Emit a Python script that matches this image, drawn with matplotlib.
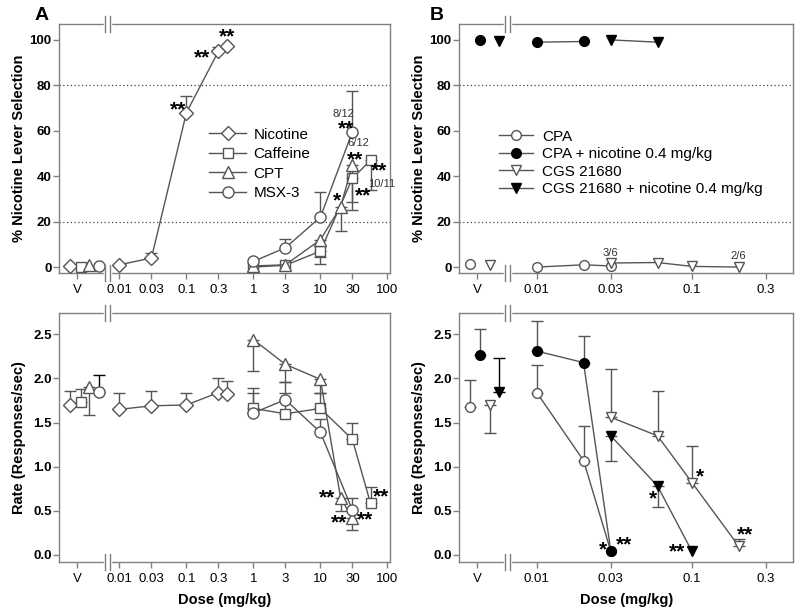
import numpy as np
import matplotlib
matplotlib.use('Agg')
import matplotlib.pyplot as plt
from matplotlib.lines import Line2D
from matplotlib.transforms import blended_transform_factory

plt.rcParams['font.family'] = ['Liberation Sans', 'DejaVu Sans']

GRAY = '#555555'
FRAME = '#808080'

# ---------------- panel A: nicotine, caffeine, CPT, MSX-3 ----------------
nic_dose = [0.01, 0.03, 0.1, 0.3, 0.4]
nic_sel = [1, 4, 68, 95, 97.5]
nic_sel_up = [0, 2, 7.5, 2, 0]
nic_sel_v = 0.5
nic_rate = [1.65, 1.69, 1.70, 1.84, 1.82]
nic_rate_up = [0.18, 0.17, 0.13, 0.16, 0.15]
nic_rate_v = 1.70
nic_rate_v_up = 0.16

caf_dose = [1, 3, 10, 30, 56]
caf_sel = [0, 0.8, 7, 39, 47]
caf_sel_dn = [0, 0, 5.5, 10.5, 13]
caf_sel_v = 0
caf_rate = [1.66, 1.60, 1.66, 1.31, 0.585]
caf_rate_up = [0.23, 0.23, 0.18, 0.19, 0.18]
caf_rate_v = 1.73
caf_rate_v_up = 0.15

cpt_dose = [1, 3, 10, 20, 30]
cpt_sel = [0.5, 1, 12, 26.5, 45]
cpt_sel_dn = [0, 0, 7.5, 10.5, 20]
cpt_sel_v = 1
cpt_rate = [2.44, 2.16, 1.99, 0.65, 0.415]
cpt_rate_dn = [0.36, 0.20, 0.16, 0.15, 0.13]
cpt_rate_v = 1.90
cpt_rate_v_dn = 0.31

msx_dose = [1, 3, 10, 30]
msx_sel = [2.5, 8.5, 22, 59.5]
msx_sel_up = [0, 4, 11, 18]
msx_sel_v = 0.5
msx_rate = [1.61, 1.76, 1.39, 0.51]
msx_rate_up = [0.23, 0.20, 0.15, 0.14]
msx_rate_v = 1.85
msx_rate_v_up = 0.19

a_ticks = [0.01, 0.03, 0.1, 0.3, 1, 3, 10, 30, 100]
a_labels = ['0.01', '0.03', '0.1', '0.3', '1', '3', '10', '30', '100']
a_names = ['Nicotine', 'Caffeine', 'CPT', 'MSX-3']

# ---------------- panel B: CPA, CGS 21680 ----------------
cpa_dose = [0.01, 0.02, 0.03]
cpa_sel = [0, 1, 0.5]
cpa_sel_v = 1.5
cpa_rate = [1.84, 1.07, 0.04]
cpa_rate_up = [0.31, 0.39, 0]
cpa_rate_v = 1.68
cpa_rate_v_up = 0.30

cpan_dose = [0.01, 0.02, 0.03]
cpan_sel = [99, 99.3]
cpan_sel_v = 100
cpan_rate = [2.31, 2.18, 0.04]
cpan_rate_up = [0.34, 0.30, 0]
cpan_rate_v = 2.27
cpan_rate_v_up = 0.29

cgs_dose = [0.03, 0.06, 0.1, 0.2]
cgs_sel = [1.8, 2, 0.3, 0]
cgs_sel_v = 1
cgs_rate = [1.56, 1.35, 0.82, 0.10]
cgs_rate_up = [0.55, 0.51, 0.41, 0.08]
cgs_rate_v = 1.70
cgs_rate_v_dn = 0.32

cgsn_dose = [0.03, 0.06, 0.1]
cgsn_sel = [100, 99]
cgsn_sel_v = 99.5
cgsn_rate = [1.35, 0.78, 0.04]
cgsn_rate_dn = [0.29, 0.24, 0]
cgsn_rate_v = 1.85
cgsn_rate_v_up = 0.38

b_ticks = [0.01, 0.03, 0.1, 0.3]
b_labels = ['0.01', '0.03', '0.1', '0.3']
b_names = ['CPA', 'CPA + nicotine 0.4 mg/kg', 'CGS 21680',
           'CGS 21680 + nicotine 0.4 mg/kg']

# x positions of the vehicle points (log-dose units, left of the break)
A_V = {'nic': -2.74, 'caf': -2.58, 'cpt': -2.45, 'msx': -2.31}
B_V = {'cpa': -2.43, 'cpan': -2.366, 'cgs': -2.30, 'cgsn': -2.243}
A_XLIM = (-2.9, 2.045)
B_XLIM = (-2.50, -0.348)

# marker sizes
MS_A = {'D': 7.5, 's': 7.5, '^': 8, 'o': 8}
MS_B = 7


def errs(ax, x, y, lo=None, hi=None, color=GRAY):
    n = len(x)
    lo = lo if lo is not None else [0] * n
    hi = hi if hi is not None else [0] * n
    for xi, yi, l, h in zip(x, y, lo, hi):
        if l == 0 and h == 0:
            continue
        ax.errorbar([xi], [yi], yerr=[[l], [h]], fmt='none', ecolor=color,
                    elinewidth=1, capsize=4.2, capthick=1, zorder=2)


def series(ax, dose, y, marker, ms, filled=False, xv=None, yv=None):
    x = np.log10(dose[:len(y)])
    face = 'black' if filled else 'white'
    edge = 'black' if filled else GRAY
    ax.plot(x, y, color=GRAY, lw=1, marker=marker, ms=ms, mfc=face,
            mec=edge, mew=1, zorder=3)
    if xv is not None:
        ax.plot([xv], [yv], ls='none', marker=marker, ms=ms, mfc=face,
                mec=edge, mew=1, zorder=3)


def axis_break(ax, xb):
    tr = blended_transform_factory(ax.transData, ax.transAxes)
    x0, x1 = ax.get_xlim()
    w = ax.get_position().width * 800
    d = 2.5 * (x1 - x0) / w
    h = 8 / (ax.get_position().height * 614)
    for yb in (0, 1):
        ax.plot([xb - d, xb + d], [yb, yb], color='white', lw=2.5,
                transform=tr, clip_on=False, zorder=5)
        for xx in (xb - d, xb + d):
            ax.plot([xx, xx], [yb - h, yb + h], color=FRAME, lw=1,
                    transform=tr, clip_on=False, zorder=6)


def style(ax, xlim, vpos, ticks, labels, ylim, yticks, yfmt, brk, ylabel):
    ax.set_xlim(xlim)
    ax.set_ylim(ylim)
    ax.set_xticks([vpos] + list(np.log10(ticks)))
    ax.set_xticklabels(['V'] + labels, fontsize=9.5)
    ax.set_yticks(yticks)
    ax.set_yticklabels([yfmt.format(v) for v in yticks], fontsize=9.5,
                       fontweight='bold')
    for s in ax.spines.values():
        s.set_color(FRAME)
        s.set_linewidth(1)
    ax.tick_params(direction='out', length=4, color=FRAME, width=1)
    ax.tick_params(axis='y', pad=1.5)
    ax.tick_params(axis='x', pad=4)
    ax.set_ylabel(ylabel, fontsize=10.5, fontweight='bold')
    ax.yaxis.set_label_coords(-0.1, 0.5)
    axis_break(ax, brk)


def star(ax, x, y, s='**', size=15):
    ax.text(x, y, s, fontsize=size, fontweight='bold', ha='center',
            va='center', zorder=7)


def small(ax, x, y, s):
    ax.text(x, y, s, fontsize=8, ha='center', va='center', color='#333333',
            zorder=7)


fig = plt.figure(figsize=(8, 6.14), dpi=100)
axA1 = fig.add_axes([0.074, 0.5554, 0.414, 0.4055])
axA2 = fig.add_axes([0.074, 0.0852, 0.414, 0.4055])
axB1 = fig.add_axes([0.574, 0.5554, 0.4175, 0.4055])
axB2 = fig.add_axes([0.574, 0.0852, 0.4175, 0.4055])

sel_ticks = [0, 20, 40, 60, 80, 100]
rate_ticks = [0, 0.5, 1.0, 1.5, 2.0, 2.5]

# ---- A top ----
ax = axA1
style(ax, A_XLIM, -2.63, a_ticks, a_labels, (-2.6, 107), sel_ticks, '{:g}',
      -2.18, '% Nicotine Lever Selection')
for yl in (20, 80):
    ax.axhline(yl, color='#444444', lw=0.9, ls=(0, (1, 2)), zorder=1)
errs(ax, np.log10(nic_dose), nic_sel, hi=nic_sel_up)
errs(ax, np.log10(caf_dose), caf_sel, lo=caf_sel_dn)
errs(ax, np.log10(cpt_dose), cpt_sel, lo=cpt_sel_dn)
errs(ax, np.log10(msx_dose), msx_sel, hi=msx_sel_up)
series(ax, nic_dose, nic_sel, 'D', MS_A['D'], xv=A_V['nic'], yv=nic_sel_v)
series(ax, caf_dose, caf_sel, 's', MS_A['s'], xv=A_V['caf'], yv=caf_sel_v)
series(ax, cpt_dose, cpt_sel, '^', MS_A['^'], xv=A_V['cpt'], yv=cpt_sel_v)
series(ax, msx_dose, msx_sel, 'o', MS_A['o'], xv=A_V['msx'], yv=msx_sel_v)
star(ax, -1.12, 69)
star(ax, -0.76, 92)
star(ax, -0.40, 101.5)
small(ax, 1.34, 67.5, '8/12')
star(ax, 1.39, 61)
small(ax, 1.57, 54.5, '6/12')
star(ax, 1.52, 47)
star(ax, 1.25, 29, '*')
star(ax, 1.63, 31.5)
star(ax, 1.88, 42.5)
small(ax, 1.92, 36.5, '10/11')
hA = [Line2D([], [], color=GRAY, lw=1, marker=m, ms=MS_A[m], mfc='white',
             mec=GRAY) for m in ('D', 's', '^', 'o')]
ax.legend(hA, a_names, loc='upper left', bbox_to_anchor=(0.453, 0.584),
          frameon=False, fontsize=11, handlelength=2.4, handletextpad=0.5,
          labelspacing=0.36, borderpad=0, borderaxespad=0)

# ---- A bottom ----
ax = axA2
style(ax, A_XLIM, -2.63, a_ticks, a_labels, (-0.076, 2.745), rate_ticks,
      '{:.1f}', -2.18, 'Rate (Responses/sec)')
ax.set_xlabel('Dose (mg/kg)', fontsize=10.5, fontweight='bold')
ax.xaxis.set_label_coords(0.5, -0.126)
errs(ax, np.log10(nic_dose), nic_rate, hi=nic_rate_up)
errs(ax, np.log10(caf_dose), caf_rate, hi=caf_rate_up)
errs(ax, np.log10(cpt_dose), cpt_rate, lo=cpt_rate_dn)
errs(ax, np.log10(msx_dose), msx_rate, hi=msx_rate_up)
errs(ax, [A_V['nic']], [nic_rate_v], hi=[nic_rate_v_up])
errs(ax, [A_V['caf']], [caf_rate_v], hi=[caf_rate_v_up])
errs(ax, [A_V['cpt']], [cpt_rate_v], lo=[cpt_rate_v_dn])
errs(ax, [A_V['msx']], [msx_rate_v], hi=[msx_rate_v_up], color='black')
series(ax, nic_dose, nic_rate, 'D', MS_A['D'], xv=A_V['nic'], yv=nic_rate_v)
series(ax, caf_dose, caf_rate, 's', MS_A['s'], xv=A_V['caf'], yv=caf_rate_v)
series(ax, cpt_dose, cpt_rate, '^', MS_A['^'], xv=A_V['cpt'], yv=cpt_rate_v)
series(ax, msx_dose, msx_rate, 'o', MS_A['o'], xv=A_V['msx'], yv=msx_rate_v)
star(ax, 1.10, 0.65)
star(ax, 1.28, 0.36)
star(ax, 1.67, 0.40)
star(ax, 1.91, 0.66)

# ---- B top ----
ax = axB1
style(ax, B_XLIM, -2.384, b_ticks, b_labels, (-2.6, 107), sel_ticks, '{:g}',
      -2.19, '% Nicotine Lever Selection')
for yl in (20, 80):
    ax.axhline(yl, color='#444444', lw=0.9, ls=(0, (1, 2)), zorder=1)
series(ax, cpa_dose, cpa_sel, 'o', MS_B, xv=B_V['cpa'], yv=cpa_sel_v)
series(ax, cpan_dose, cpan_sel, 'o', MS_B, filled=True, xv=B_V['cpan'],
       yv=cpan_sel_v)
series(ax, cgs_dose, cgs_sel, 'v', MS_B, xv=B_V['cgs'], yv=cgs_sel_v)
series(ax, cgsn_dose, cgsn_sel, 'v', MS_B, filled=True, xv=B_V['cgsn'],
       yv=cgsn_sel_v)
small(ax, -1.523, 6, '3/6')
small(ax, -0.70, 5, '2/6')
hB = [Line2D([], [], color=GRAY, lw=1, marker=m, ms=MS_B,
             mfc='black' if f else 'white', mec='black' if f else GRAY)
      for m, f in (('o', False), ('o', True), ('v', False), ('v', True))]
ax.legend(hB, b_names, loc='upper left', bbox_to_anchor=(0.12, 0.576),
          frameon=False, fontsize=11, handlelength=2.2, handletextpad=0.6,
          labelspacing=0.23, borderpad=0, borderaxespad=0)

# ---- B bottom ----
ax = axB2
style(ax, B_XLIM, -2.384, b_ticks, b_labels, (-0.076, 2.745), rate_ticks,
      '{:.1f}', -2.19, 'Rate (Responses/sec)')
ax.set_xlabel('Dose (mg/kg)', fontsize=10.5, fontweight='bold')
ax.xaxis.set_label_coords(0.5, -0.126)
errs(ax, np.log10(cpa_dose), cpa_rate, hi=cpa_rate_up)
errs(ax, np.log10(cpan_dose), cpan_rate, hi=cpan_rate_up)
errs(ax, np.log10(cgs_dose), cgs_rate, hi=cgs_rate_up)
errs(ax, np.log10(cgsn_dose), cgsn_rate, lo=cgsn_rate_dn)
errs(ax, [B_V['cpa']], [cpa_rate_v], hi=[cpa_rate_v_up])
errs(ax, [B_V['cpan']], [cpan_rate_v], hi=[cpan_rate_v_up])
errs(ax, [B_V['cgs']], [cgs_rate_v], lo=[cgs_rate_v_dn])
errs(ax, [B_V['cgsn']], [cgsn_rate_v], hi=[cgsn_rate_v_up], color='black')
series(ax, cpa_dose, cpa_rate, 'o', MS_B, xv=B_V['cpa'], yv=cpa_rate_v)
series(ax, cpan_dose, cpan_rate, 'o', MS_B, filled=True, xv=B_V['cpan'],
       yv=cpan_rate_v)
series(ax, cgs_dose, cgs_rate, 'v', MS_B, xv=B_V['cgs'], yv=cgs_rate_v)
series(ax, cgsn_dose, cgsn_rate, 'v', MS_B, filled=True, xv=B_V['cgsn'],
       yv=cgsn_rate_v)
star(ax, -1.574, 0.06, '*')
star(ax, -1.441, 0.11)
star(ax, -1.254, 0.64, '*')
star(ax, -1.097, 0.04)
star(ax, -0.946, 0.89, '*')
star(ax, -0.656, 0.23)

fig.text(42 / 800, 1 - 15 / 614, 'A', ha='center', va='center',
         fontweight='bold', fontsize=14)
fig.text(437 / 800, 1 - 15 / 614, 'B', ha='center', va='center',
         fontweight='bold', fontsize=14)

fig.savefig('out.png', dpi=100)
